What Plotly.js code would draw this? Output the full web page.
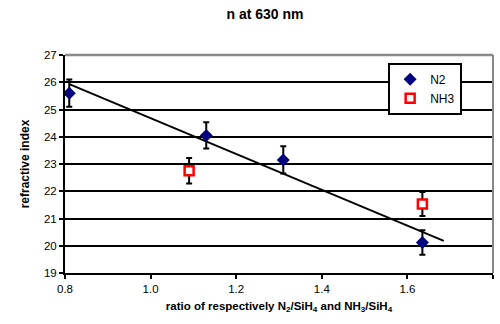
<!DOCTYPE html>
<html>
<head>
<meta charset="utf-8">
<script src="https://cdn.plot.ly/plotly-3.0.1.min.js"></script>
<style>html,body{margin:0;padding:0;background:#fff;}#chart{width:500px;height:324px;}</style>
</head>
<body>
<div id="chart"></div>
<script>
// Data
const n2X = [0.81, 1.13, 1.31, 1.635];
const n2Y = [25.6, 24.05, 23.15, 20.12];
const n2Err = [0.5, 0.48, 0.5, 0.45];
const nh3X = [1.09, 1.635];
const nh3Y = [22.75, 21.53];
const nh3Err = [0.47, 0.44];
const trendX = [0.81, 1.685];
const xTicks = [0.8, 1.0, 1.2, 1.4, 1.6, 1.8];
const xTickText = ["0.8", "1.0", "1.2", "1.4", "1.6", "1.8"];
const yTicks = [19, 20, 21, 22, 23, 24, 25, 26, 27];

// linear least-squares fit of the N2 series (trendline)
function fit(xs, ys) {
  const n = xs.length;
  const mx = xs.reduce((a, b) => a + b, 0) / n;
  const my = ys.reduce((a, b) => a + b, 0) / n;
  let sxy = 0, sxx = 0;
  for (let i = 0; i < n; i++) { sxy += (xs[i] - mx) * (ys[i] - my); sxx += (xs[i] - mx) ** 2; }
  const m = sxy / sxx;
  return x => my + m * (x - mx);
}
const f = fit(n2X, n2Y);
const trendY = trendX.map(f);

const FONT = "Liberation Sans, Arial, sans-serif";

const traces = [
  {
    x: trendX, y: trendY, mode: "lines", type: "scatter",
    line: {color: "#000", width: 2}, showlegend: false, hoverinfo: "skip"
  },
  {
    x: n2X, y: n2Y, mode: "markers", type: "scatter", name: "N2",
    marker: {symbol: "diamond", color: "#000080", size: 10},
    error_y: {type: "data", array: n2Err, visible: true, color: "#000", thickness: 2, width: 3}
  },
  {
    x: nh3X, y: nh3Y, mode: "markers", type: "scatter", name: "NH3",
    marker: {symbol: "square", color: "#fff", size: 9, line: {color: "#ff0000", width: 2.5}},
    error_y: {type: "data", array: nh3Err, visible: true, color: "#000", thickness: 2, width: 3}
  }
];

const layout = {
  width: 500, height: 324,
  margin: {l: 65, r: 7, t: 55, b: 51},
  paper_bgcolor: "#fff", plot_bgcolor: "#fff",
  font: {family: FONT, size: 11, color: "#000"},
  title: {text: "<b>n at 630 nm</b>", font: {family: FONT, size: 14, color: "#000"},
          x: 0.53, xanchor: "center", y: 0.955, yanchor: "middle"},
  xaxis: {
    range: [0.8, 1.8], tickvals: xTicks, ticktext: xTickText,
    showgrid: false, zeroline: false,
    showline: true, linecolor: "#000", linewidth: 2,
    ticks: "outside", ticklen: 4, tickwidth: 2, tickcolor: "#000",
    tickfont: {family: FONT, size: 11.5},
    mirror: false,
    title: {text: "<b>ratio of respectively N<sub>2</sub>/SiH<sub>4</sub> and NH<sub>3</sub>/SiH<sub>4</sub></b>",
            font: {family: FONT, size: 11.5}, standoff: 8}
  },
  yaxis: {
    range: [19, 27], tickvals: yTicks,
    showgrid: true, gridcolor: "#000", gridwidth: 2, zeroline: false,
    showline: true, linecolor: "#000", linewidth: 2,
    ticks: "outside", ticklen: 4, tickwidth: 2, tickcolor: "#000",
    tickfont: {family: FONT, size: 11.5},
    title: {text: "<b>refractive index</b>", font: {family: FONT, size: 12}, standoff: 12}
  },
  shapes: [
    {type: "line", xref: "paper", yref: "paper", x0: 0, x1: 1, y0: 1, y1: 1, line: {color: "#888", width: 2.5}},
    {type: "line", xref: "paper", yref: "paper", x0: 1, x1: 1, y0: 0, y1: 1, line: {color: "#888", width: 2}}
  ],
  legend: {
    x: 0.755, y: 0.965, xanchor: "left", yanchor: "top",
    bgcolor: "#fff", bordercolor: "#000", borderwidth: 2,
    font: {family: FONT, size: 12}, itemwidth: 30, tracegroupgap: 0
  },
  showlegend: true
};

Plotly.newPlot("chart", traces, layout, {displayModeBar: false, staticPlot: true});
</script>
</body>
</html>
